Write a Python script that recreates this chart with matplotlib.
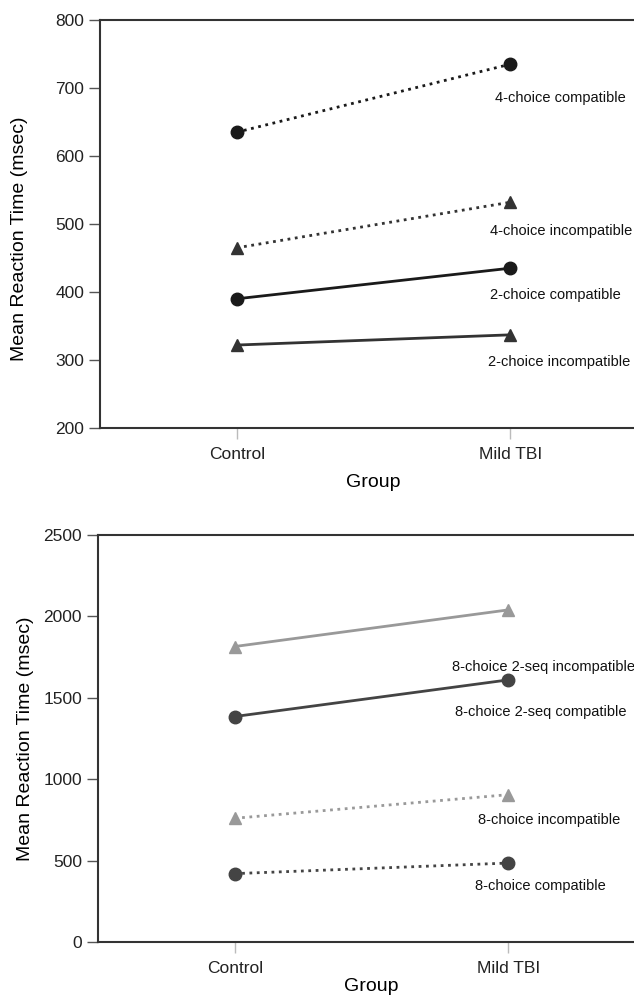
import matplotlib.pyplot as plt

plt.rcParams['font.family'] = ['Liberation Sans', 'DejaVu Sans']

groups = ['Control', 'Mild TBI']

# top panel
top_names = ['4-choice compatible', '4-choice incompatible',
             '2-choice compatible', '2-choice incompatible']
top_values = [[635, 735], [465, 532], [390, 435], [322, 337]]
top_label_pos = [[0.945, 685], [0.927, 490], [0.927, 396], [0.92, 297]]

# bottom panel
bot_names = ['8-choice 2-seq incompatible', '8-choice 2-seq compatible',
             '8-choice incompatible', '8-choice compatible']
bot_values = [[1815, 2040], [1385, 1610], [760, 905], [420, 485]]
bot_label_pos = [[0.796, 1689], [0.807, 1413], [0.89, 749], [0.88, 344]]

top_styles = [('o', ':', '#1a1a1a'), ('^', ':', '#333333'),
              ('o', '-', '#1a1a1a'), ('^', '-', '#333333')]
bot_styles = [('^', '-', '#999999'), ('o', '-', '#444444'),
              ('^', ':', '#999999'), ('o', ':', '#444444')]

fig = plt.figure(figsize=(6.34, 10.02), dpi=100)
ax1 = fig.add_axes([100 / 634, 1 - 428 / 1002, 547 / 634, 408 / 1002])
ax2 = fig.add_axes([98 / 634, 1 - 942 / 1002, 547 / 634, 407 / 1002])


def draw_panel(ax, names, values, styles, label_pos, ylim, yticks):
    x = list(range(len(groups)))
    for name, vals, (mk, ls, col), (lx, ly) in zip(names, values, styles, label_pos):
        ax.plot(x, vals, linestyle=ls, marker=mk, color=col, lw=2,
                markersize=9, clip_on=False)
        ax.text(lx, ly, name, ha='left', va='center', fontsize=10.5,
                color='#111111', clip_on=False)
    ax.set_xlim(-0.5, 1.5)
    ax.set_ylim(*ylim)
    ax.set_yticks(yticks)
    ax.set_xticks(x)
    ax.set_xticklabels(groups)
    ax.tick_params(axis='y', direction='out', length=8, width=1,
                   color='#555555', labelsize=12.5, labelcolor='#222222')
    ax.tick_params(axis='x', direction='out', length=8, width=1,
                   color='#bbbbbb', labelsize=12.5, labelcolor='#222222', pad=6)
    ax.spines['right'].set_visible(False)
    for s in ['left', 'bottom', 'top']:
        ax.spines[s].set_linewidth(1.5)
        ax.spines[s].set_color('#333333')
    ax.set_ylabel('Mean Reaction Time (msec)', fontsize=14, labelpad=7)
    ax.set_xlabel('Group', fontsize=14, labelpad=8)


draw_panel(ax1, top_names, top_values, top_styles, top_label_pos,
           (200, 800), [200, 300, 400, 500, 600, 700, 800])
draw_panel(ax2, bot_names, bot_values, bot_styles, bot_label_pos,
           (0, 2500), [0, 500, 1000, 1500, 2000, 2500])
ax2.set_xlabel('Group', fontsize=14, labelpad=1)
ax1.yaxis.set_label_coords(-0.132, 0.463)

plt.savefig('out.png', dpi=100)
plt.close()
